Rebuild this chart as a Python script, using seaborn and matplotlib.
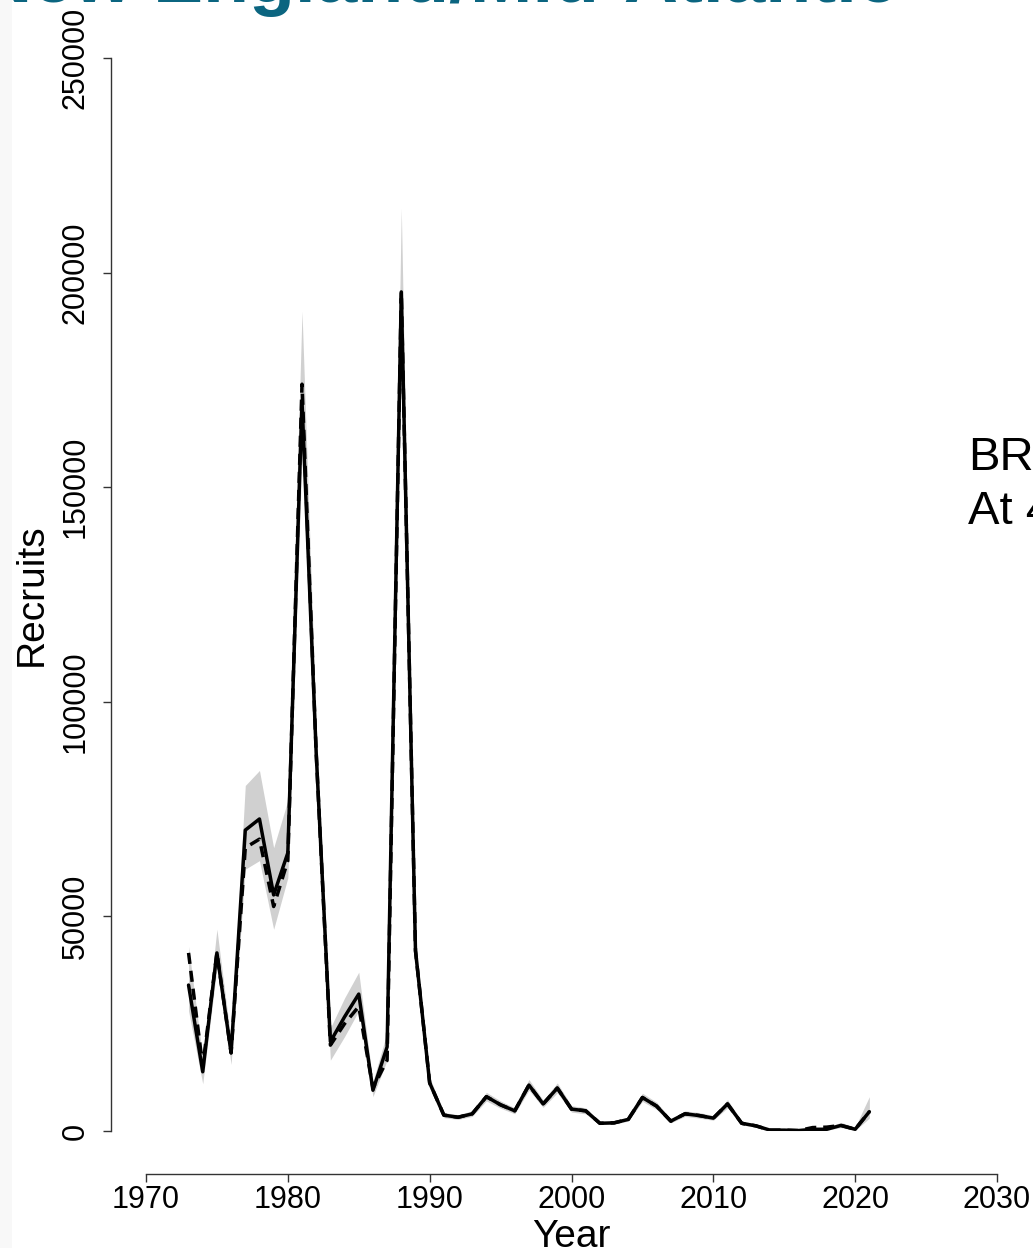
import matplotlib
matplotlib.use("Agg")
import matplotlib.pyplot as plt
import seaborn as sns
import pandas as pd
import numpy as np
from matplotlib.patches import Rectangle

years = list(range(1973, 2022))
recruits = [34000, 13800, 41500, 18200, 70100, 72700, 55000, 64800, 170000, 88000,
            20800, 26600, 31900, 9500, 19600, 195500, 42000, 11200, 3700, 3200,
            4000, 8000, 6100, 4700, 10700, 6300, 10000, 5100, 4700, 1800,
            1900, 2700, 7800, 5800, 2300, 4000, 3600, 3000, 6300, 1800,
            1200, 200, 200, 100, 400, 400, 1300, 400, 4500]
recruits_alt = [41500, 15000, 41500, 18200, 66000, 68000, 52300, 63000, 174000, 88000,
                20000, 25000, 29000, 10000, 16500, 195500, 42000, 11200, 3700, 3200,
                4000, 8000, 6100, 4700, 10700, 6300, 10000, 5100, 4700, 1800,
                1900, 2700, 7800, 5800, 2300, 4000, 3600, 3000, 6300, 1800,
                1200, 200, 200, 100, 800, 900, 1300, 400, 4500]
ci_low = [28000, 11000, 38000, 15500, 61000, 63000, 47000, 59000, 158000, 82000,
          16500, 22000, 28000, 8000, 16500, 185000, 39000, 10000, 3100, 2700,
          3400, 7000, 5300, 4000, 9500, 5500, 8900, 4400, 4000, 1500,
          1600, 2300, 6900, 5000, 1900, 3400, 3000, 2500, 5400, 1400,
          900, 100, 100, 50, 200, 200, 800, 100, 3000]
ci_high = [43000, 17000, 47000, 21000, 80500, 84000, 66000, 77000, 191000, 95000,
           24000, 31000, 37000, 11500, 23000, 215000, 45000, 12500, 4300, 3800,
           4700, 9000, 7000, 5400, 12000, 7200, 11200, 5900, 5400, 2200,
           2300, 3200, 8800, 6700, 2800, 4700, 4300, 3600, 7300, 2300,
           1600, 400, 400, 300, 800, 900, 2000, 900, 8000]
x_ticks = [1970, 1980, 1990, 2000, 2010, 2020, 2030]
y_ticks = [0, 50000, 100000, 150000, 200000, 250000]

df = pd.DataFrame({"Year": years, "Recruits": recruits, "Alt": recruits_alt,
                   "lo": ci_low, "hi": ci_high})

sns.set_style("ticks")
plt.rcParams['font.family'] = ['Liberation Sans', 'DejaVu Sans']
plt.rcParams['text.color'] = 'black'

fig = plt.figure(figsize=(10.33, 12.48), dpi=100)
ax = fig.add_axes([146/1033, 117/1248, 851/1033, 1073/1248])

ax.fill_between(df["Year"], df["lo"], df["hi"], color="#d0d0d0", lw=0, zorder=1)
sns.lineplot(data=df, x="Year", y="Alt", ax=ax, color="black", lw=2.5,
             linestyle=(0, (3.2, 2.0)), zorder=2)
sns.lineplot(data=df, x="Year", y="Recruits", ax=ax, color="black", lw=2.5, zorder=3)

ax.set_xlim(1970, 2030)
ax.set_ylim(0, 250000)
ax.set_xticks(x_ticks)
ax.set_xticklabels([str(t) for t in x_ticks])
ax.set_yticks(y_ticks)
ax.set_yticklabels([str(t) for t in y_ticks])

for s in ["top", "right"]:
    ax.spines[s].set_visible(False)
ax.spines["left"].set_position(("outward", 25))
ax.spines["bottom"].set_position(("outward", 31))
for s in ["left", "bottom"]:
    ax.spines[s].set_color("#333333")
    ax.spines[s].set_linewidth(1.0)
ax.tick_params(axis="both", direction="out", length=6, width=1.0, color="#333333",
               labelsize=22, labelcolor="black")
ax.tick_params(axis="x", pad=2)
ax.tick_params(axis="y", pad=9)
for lab in ax.get_yticklabels():
    lab.set_rotation(90)
    lab.set_va("center")
    lab.set_ha("right")

ax.set_xlabel("Year", fontsize=28, labelpad=3, color="black")
ax.set_ylabel("Recruits", fontsize=28, labelpad=8, color="black")

# slide context
fig.patches.append(Rectangle((0, 0), 12/1033, 1, transform=fig.transFigure,
                             facecolor="#f8f8f8", edgecolor="none", zorder=0))
fig.text(-22/1033, 1 - 2/1248, "New England/Mid-Atlantic", color="#0b6580",
         fontsize=54, fontweight="bold", ha="left", va="baseline")
fig.text(968/1033, 1 - 470/1248, "BR", fontsize=34, color="black",
         ha="left", va="baseline")
fig.text(968/1033, 1 - 524/1248, "At 4", fontsize=34, color="black",
         ha="left", va="baseline")

fig.savefig("out.png", dpi=100)
